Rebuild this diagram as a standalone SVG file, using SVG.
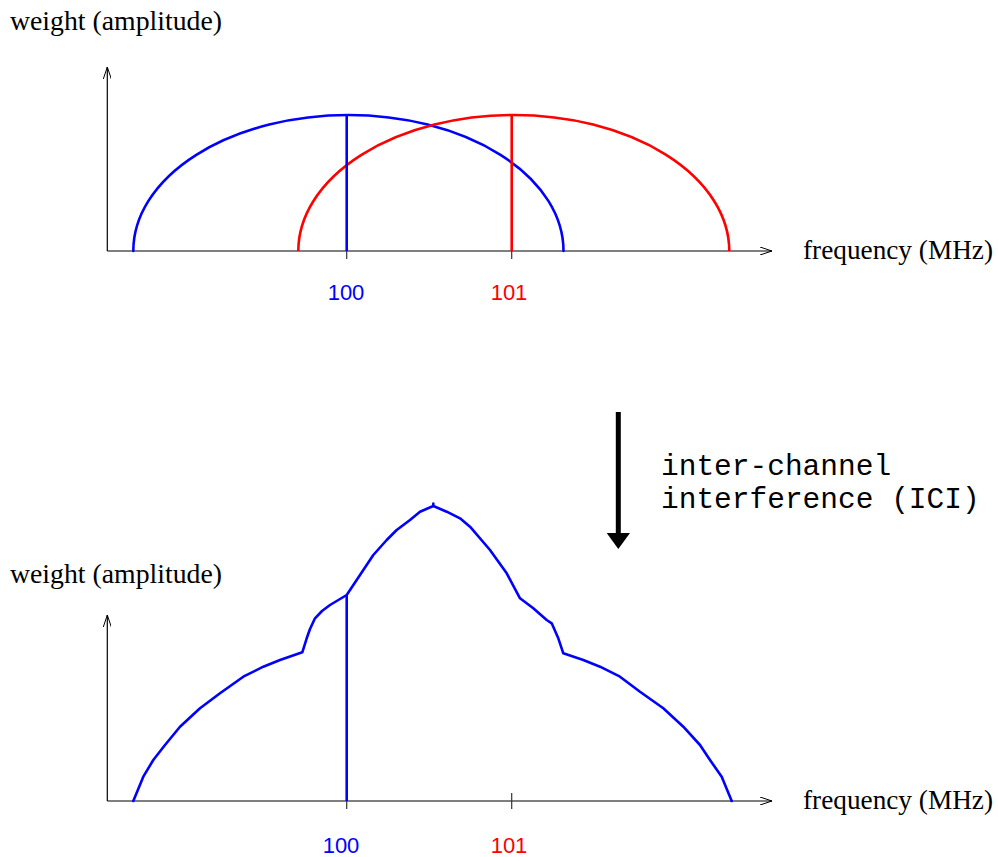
<svg xmlns="http://www.w3.org/2000/svg" width="998" height="857" viewBox="0 0 998 857">
<style>
.axis{stroke:#000;stroke-width:1.2;fill:none}
.tick{stroke:#333;stroke-width:1.2;fill:none}
.blue{stroke:#0000ff;stroke-width:2.6;fill:none;stroke-linejoin:round;stroke-linecap:round}
.red{stroke:#ff0000;stroke-width:2.6;fill:none;stroke-linejoin:round}
.serif{font-family:"Liberation Serif","Times New Roman",serif;font-size:27px;fill:#000}
.num{font-family:"Liberation Sans",Arial,sans-serif;font-size:22px;text-anchor:middle}
.mono{font-family:"Liberation Mono","Courier New",monospace;font-size:29.5px;fill:#000}
</style>
<defs>
<marker id="open" viewBox="0 0 12 8" refX="12" refY="4" markerWidth="12" markerHeight="8" markerUnits="userSpaceOnUse" orient="auto">
<path d="M0,0 L12,4 L0,8" fill="none" stroke="#000" stroke-width="1"/>
</marker>
</defs>
<g id="top-chart">
<text class="serif" x="10" y="30" textLength="212" lengthAdjust="spacingAndGlyphs">weight (amplitude)</text>
<line class="axis" x1="107.3" y1="251" x2="107.3" y2="67" marker-end="url(#open)"/>
<line class="axis" x1="107.3" y1="251" x2="772" y2="251" marker-end="url(#open)"/>
<line class="tick" x1="346.7" y1="244" x2="346.7" y2="259"/>
<line class="tick" x1="511.7" y1="244" x2="511.7" y2="259"/>
<path id="blue-channel" class="blue" d="M133.3,251 A215 136 0 0 1 563.5,251"/>
<path id="red-channel" class="red" d="M298.3,251 A215.5 136 0 0 1 729.3,251"/>
<line class="blue" x1="346.7" y1="115" x2="346.7" y2="251" style="stroke-linecap:butt"/>
<line class="red" x1="511.7" y1="115" x2="511.7" y2="251"/>
<text class="num" x="346" y="300" fill="#0000ff">100</text>
<text class="num" x="509" y="300" fill="#ff0000">101</text>
<text class="serif" x="803" y="259" textLength="190" lengthAdjust="spacingAndGlyphs">frequency (MHz)</text>
</g>
<g id="ici-arrow">
<line x1="618.3" y1="412" x2="618.3" y2="535" stroke="#000" stroke-width="5"/>
<polygon points="606.7,533 630,533 618.3,549" fill="#000"/>
<text class="mono" x="661" y="475">inter-channel</text>
<text class="mono" x="661" y="508">interference (ICI)</text>
</g>
<g id="bottom-chart">
<text class="serif" x="10" y="583" textLength="212" lengthAdjust="spacingAndGlyphs">weight (amplitude)</text>
<line class="axis" x1="107.3" y1="801" x2="107.3" y2="615" marker-end="url(#open)"/>
<line class="axis" x1="107.3" y1="801" x2="772" y2="801" marker-end="url(#open)"/>
<line class="tick" x1="346.7" y1="794" x2="346.7" y2="809"/>
<line class="tick" x1="511.7" y1="793" x2="511.7" y2="809"/>
<path id="sum-curve" class="blue" d="M133.3,801 L143.3,776.7 L153.3,760 L165,745 L180,726.7 L200,708.3 L220,693.3 L243.3,676.7 L263.3,666.7 L280,660 L302.3,652.3 L306.7,638.3 L310,629 L315,618.3 L322,611 L330,605 L346.7,595 L373.3,555 L386.7,540 L396.7,530 L410,520 L420,511.7 L433.3,506 L446.7,511.7 L460,518.3 L470,526.7 L490,550 L506.7,573.3 L520,598.3 L533.3,608.3 L546.7,620 L551.7,623.3 L558.3,638.3 L563.3,653.3 L583.3,660 L600,666.7 L620,676.7 L640,691.7 L663.3,708.3 L683.3,726.7 L700,745 L710,760 L721.7,776.7 L731.7,801"/>
<line class="blue" x1="433.3" y1="506" x2="433.3" y2="503.5"/>
<line class="blue" x1="346.7" y1="595" x2="346.7" y2="801" style="stroke-linecap:butt"/>
<text class="num" x="341" y="853" fill="#0000ff">100</text>
<text class="num" x="509" y="853" fill="#ff0000">101</text>
<text class="serif" x="803" y="809" textLength="190" lengthAdjust="spacingAndGlyphs">frequency (MHz)</text>
</g>
</svg>
